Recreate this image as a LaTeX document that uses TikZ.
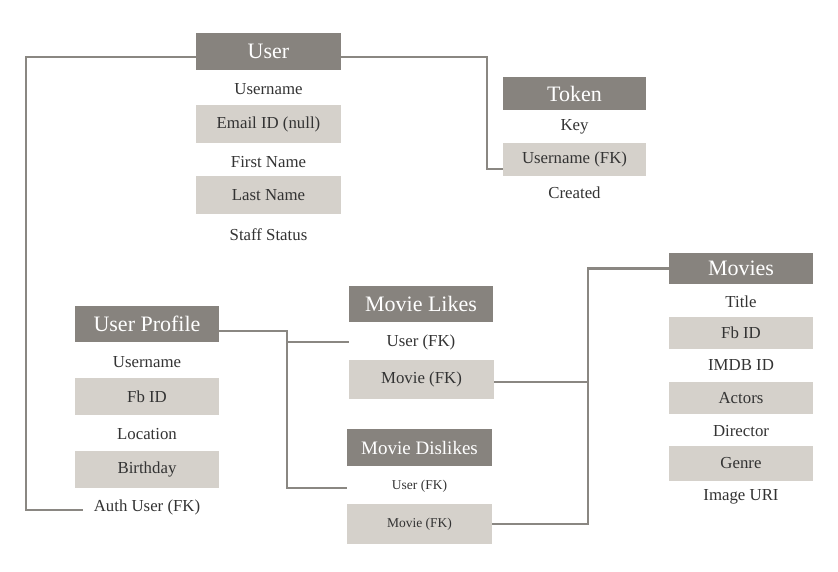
\documentclass[tikz,border=0pt]{standalone}
\usepackage{fontspec}
\setmainfont{Liberation Serif}
\definecolor{hdrc}{HTML}{87837E}
\definecolor{fldc}{HTML}{D5D1CB}
\definecolor{linec}{HTML}{8A8782}
\definecolor{txtc}{HTML}{333333}
\tikzset{
  hdr/.style={fill=hdrc, text=white, inner sep=0pt, font=\fontsize{22}{24}\selectfont},
  fld/.style={fill=fldc, text=txtc, inner sep=0pt, font=\fontsize{16.8}{19}\selectfont},
  txt/.style={text=txtc, inner sep=1pt, font=\fontsize{16.8}{19}\selectfont},
  small/.style={font=\fontsize{13.5}{16}\selectfont},
  conn/.style={draw=linec, line width=2.5pt},
}
\begin{document}
\begin{tikzpicture}[x=1pt,y=-1pt]
\useasboundingbox[fill=white] (0,0) rectangle (838,571);
% User
\node[hdr, minimum width=145, minimum height=37] (user) at (268.5,51.5) {User};
\node[txt] (u1) at (268.5,89) {Username};
\node[fld, minimum width=145, minimum height=38] (u2) at (268.5,124) {Email ID (null)};
\node[txt] (u3) at (268.5,162) {First Name};
\node[fld, minimum width=145, minimum height=38] (u4) at (268.5,195) {Last Name};
\node[txt] (u5) at (268.5,235) {Staff Status};
% Token
\node[hdr, minimum width=143, minimum height=33] (tok) at (574.5,93.5) {Token};
\node[txt] (t1) at (574.5,127) {Key};
\node[fld, minimum width=143, minimum height=33] (t2) at (574.5,159.5) {Username (FK)};
\node[txt] (t3) at (574.5,193) {Created};
% User Profile
\node[hdr, minimum width=144, minimum height=36] (up) at (147,324) {User Profile};
\node[txt] (p1) at (147,362) {Username};
\node[fld, minimum width=144, minimum height=37] (p2) at (147,396.5) {Fb ID};
\node[txt] (p3) at (147,434) {Location};
\node[fld, minimum width=144, minimum height=37] (p4) at (147,469.5) {Birthday};
\node[txt] (p5) at (147,507) {Auth User (FK)};
% Movie Likes
\node[hdr, minimum width=144, minimum height=36] (ml) at (421,304) {Movie Likes};
\node[txt] (ml1) at (421,342) {User (FK)};
\node[fld, minimum width=145, minimum height=39] (ml2) at (421.5,379.5) {Movie (FK)};
% Movie Dislikes
\node[hdr, minimum width=145, minimum height=37, font=\fontsize{19}{21}\selectfont] (md) at (419.5,447.5) {Movie Dislikes};
\node[txt, small] (md1) at (419.5,486) {User (FK)};
\node[fld, small, minimum width=145, minimum height=40] (md2) at (419.5,524) {Movie (FK)};
% Movies
\node[hdr, minimum width=144, minimum height=31] (mv) at (741,268.5) {Movies};
\node[txt] (m1) at (741,302) {Title};
\node[fld, minimum width=144, minimum height=32] (m2) at (741,333) {Fb ID};
\node[txt] (m3) at (741,365) {IMDB ID};
\node[fld, minimum width=144, minimum height=32] (m4) at (741,398) {Actors};
\node[txt] (m5) at (741,431) {Director};
\node[fld, minimum width=144, minimum height=35] (m6) at (741,463.5) {Genre};
\node[txt] (m7) at (741,497) {Image URI};
% connectors
\coordinate (bus) at (588,0);
\coordinate (mlout) at ([yshift=-2.5]ml2.east);
\draw[conn] ([yshift=-5.5]user.west) -- ++(-170,0) |- ([xshift=-10,yshift=-3]p5.west);
\draw[conn] ([yshift=-5.5]user.east) -- ++(146,0) |- ([yshift=-9.5]t2.west);
\draw[conn] ([yshift=-7]up.east) -- ++(68,0) coordinate (j1) |- (ml.west |- ml1);
\draw[conn] (j1) |- ([yshift=-2]md.west |- md1);
\draw[conn] (mlout) -- (mlout -| bus);
\draw[conn] (md2.east) -| (bus |- mv.west) -- (mv.west);
\end{tikzpicture}
\end{document}
